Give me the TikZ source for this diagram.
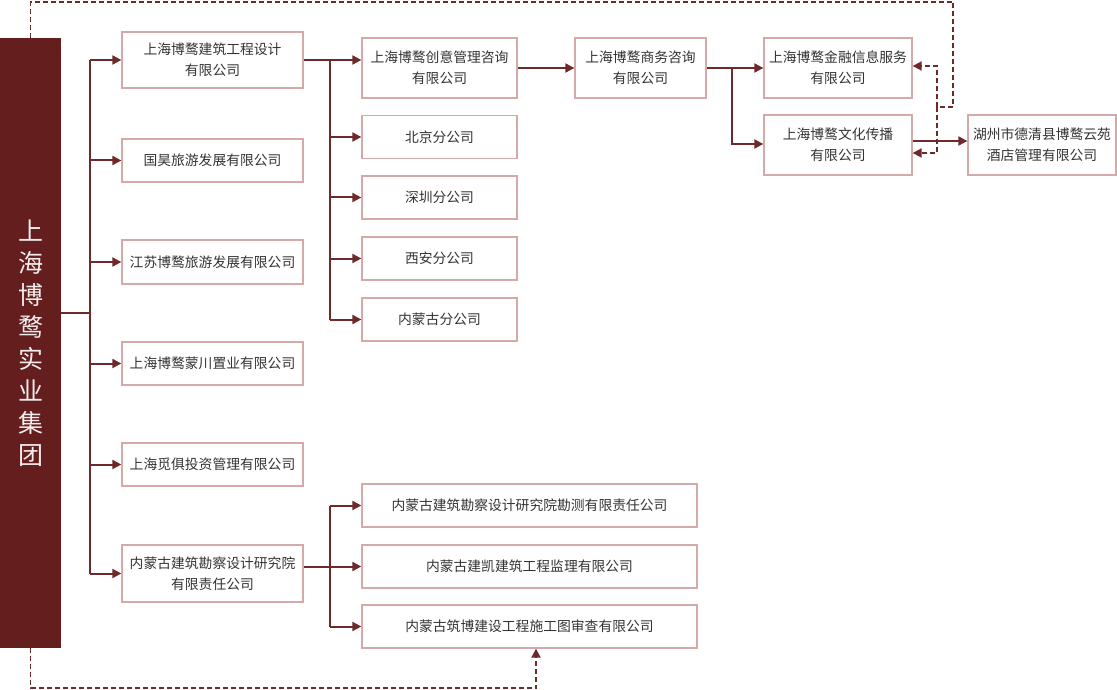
\documentclass[tikz,border=0pt]{standalone}
\usepackage{fontspec}
\setmainfont{Noto Sans CJK SC}
\usetikzlibrary{arrows.meta}
\definecolor{deepred}{HTML}{651E1E}
\definecolor{linered}{HTML}{6E2A2A}
\definecolor{edgepink}{HTML}{D6A9A9}
\definecolor{txtgray}{HTML}{333333}
\tikzset{
  co/.style={draw=edgepink, line width=1.3pt, text=txtgray, align=center, inner sep=0pt,
    font=\fontsize{13.8}{21}\selectfont},
  link/.style={draw=linered, line width=2pt, -{Triangle[length=9pt,width=9pt]}},
  plain/.style={draw=linered, line width=2pt},
  dlink/.style={draw=linered, line width=1.8pt, dash pattern=on 5pt off 3pt,
    -{Triangle[length=9pt,width=9pt]}}
}
\begin{document}
\begin{tikzpicture}[x=1pt,y=-1pt]
\useasboundingbox (0,0) rectangle (1117,690);
% group
\node [fill=deepred, minimum width=61, minimum height=610, inner sep=0pt, align=center,
  text=white!92!deepred, font=\fontsize{25}{32}\selectfont] (main) at (30.5,343)
  {上\\海\\博\\鹜\\实\\业\\集\\团};

% first level
\node [co, minimum width=181, minimum height=56] (a1) at (212.5,60) {上海博鹜建筑工程设计\\有限公司};
\node [co, minimum width=181, minimum height=43] (a2) at (212.5,160.5) {国昊旅游发展有限公司};
\node [co, minimum width=181, minimum height=44] (a3) at (212.5,262) {江苏博鹜旅游发展有限公司};
\node [co, minimum width=181, minimum height=43] (a4) at (212.5,363.5) {上海博鹜蒙川置业有限公司};
\node [co, minimum width=181, minimum height=43] (a5) at (212.5,464.5) {上海觅俱投资管理有限公司};
\node [co, minimum width=181, minimum height=57] (a6) at (212.5,573.5) {内蒙古建筑勘察设计研究院\\有限责任公司};

\coordinate (t1) at (90,313);
\draw [plain] (main.east |- t1) -- (t1);
\draw [plain] (t1 |- a1) -- (t1 |- a6);
\foreach \n in {a1,a2,a3,a4,a5,a6}
  \draw [link] (t1 |- \n) -- (\n.west);

% branches of a1
\node [co, minimum width=155, minimum height=60] (b1) at (439.5,68) {上海博鹜创意管理咨询\\有限公司};
\node [co, minimum width=155, minimum height=43] (b2) at (439.5,137) {北京分公司};
\node [co, minimum width=155, minimum height=43] (b3) at (439.5,197.5) {深圳分公司};
\node [co, minimum width=155, minimum height=43] (b4) at (439.5,258.5) {西安分公司};
\node [co, minimum width=155, minimum height=43] (b5) at (439.5,319.5) {内蒙古分公司};

\coordinate (t2) at (330,60);
\draw [link] (a1.east) -- (b1.west |- a1.east);
\draw [plain] (t2) -- (t2 |- b5);
\foreach \n in {b2,b3,b4,b5}
  \draw [link] (t2 |- \n) -- (\n.west);

% consulting chain
\node [co, minimum width=131, minimum height=60] (c1) at (640.5,68) {上海博鹜商务咨询\\有限公司};
\node [co, minimum width=148, minimum height=60] (d1) at (838,68) {上海博鹜金融信息服务\\有限公司};
\node [co, minimum width=148, minimum height=60] (d2) at (838,145) {上海博鹜文化传播\\有限公司};
\node [co, minimum width=148, minimum height=60] (e1) at (1042,145) {湖州市德清县博鹜云苑\\酒店管理有限公司};

\draw [link] (b1.east) -- (c1.west);
\coordinate (t3) at (732,68);
\draw [link] (c1.east) -- (d1.west);
\draw [link] (t3) |- ([yshift=1]d2.west);
\draw [link] ([yshift=4]d2.east) -- ([yshift=4]e1.west);

% branches of a6
\node [co, minimum width=335, minimum height=43] (f1) at (529.5,505.5) {内蒙古建筑勘察设计研究院勘测有限责任公司};
\node [co, minimum width=335, minimum height=43] (f2) at (529.5,566.5) {内蒙古建凯建筑工程监理有限公司};
\node [co, minimum width=335, minimum height=43] (f3) at (529.5,626.5) {内蒙古筑博建设工程施工图审查有限公司};

\coordinate (t4) at (330,566.5);
\draw [plain] (a6.east |- t4) -- (t4);
\draw [plain] (t4 |- f1) -- (t4 |- f3);
\foreach \n in {f1,f2,f3}
  \draw [link] (t4 |- \n) -- (\n.west);

% dashed links
\coordinate (k1) at (953,107);
\coordinate (k2) at (937,107);
\draw [plain, dash pattern=on 5pt off 3pt, line width=1.8pt] (main.north) -- ++(0,-36) -| (k1) -- (k2);
\draw [dlink] (k2) |- ([yshift=2]d1.east);
\draw [dlink] (k2) |- ([yshift=-8]d2.east);
\draw [dlink] (main.south) -- ++(0,40) -| ([xshift=6.5]f3.south);
\end{tikzpicture}
\end{document}
